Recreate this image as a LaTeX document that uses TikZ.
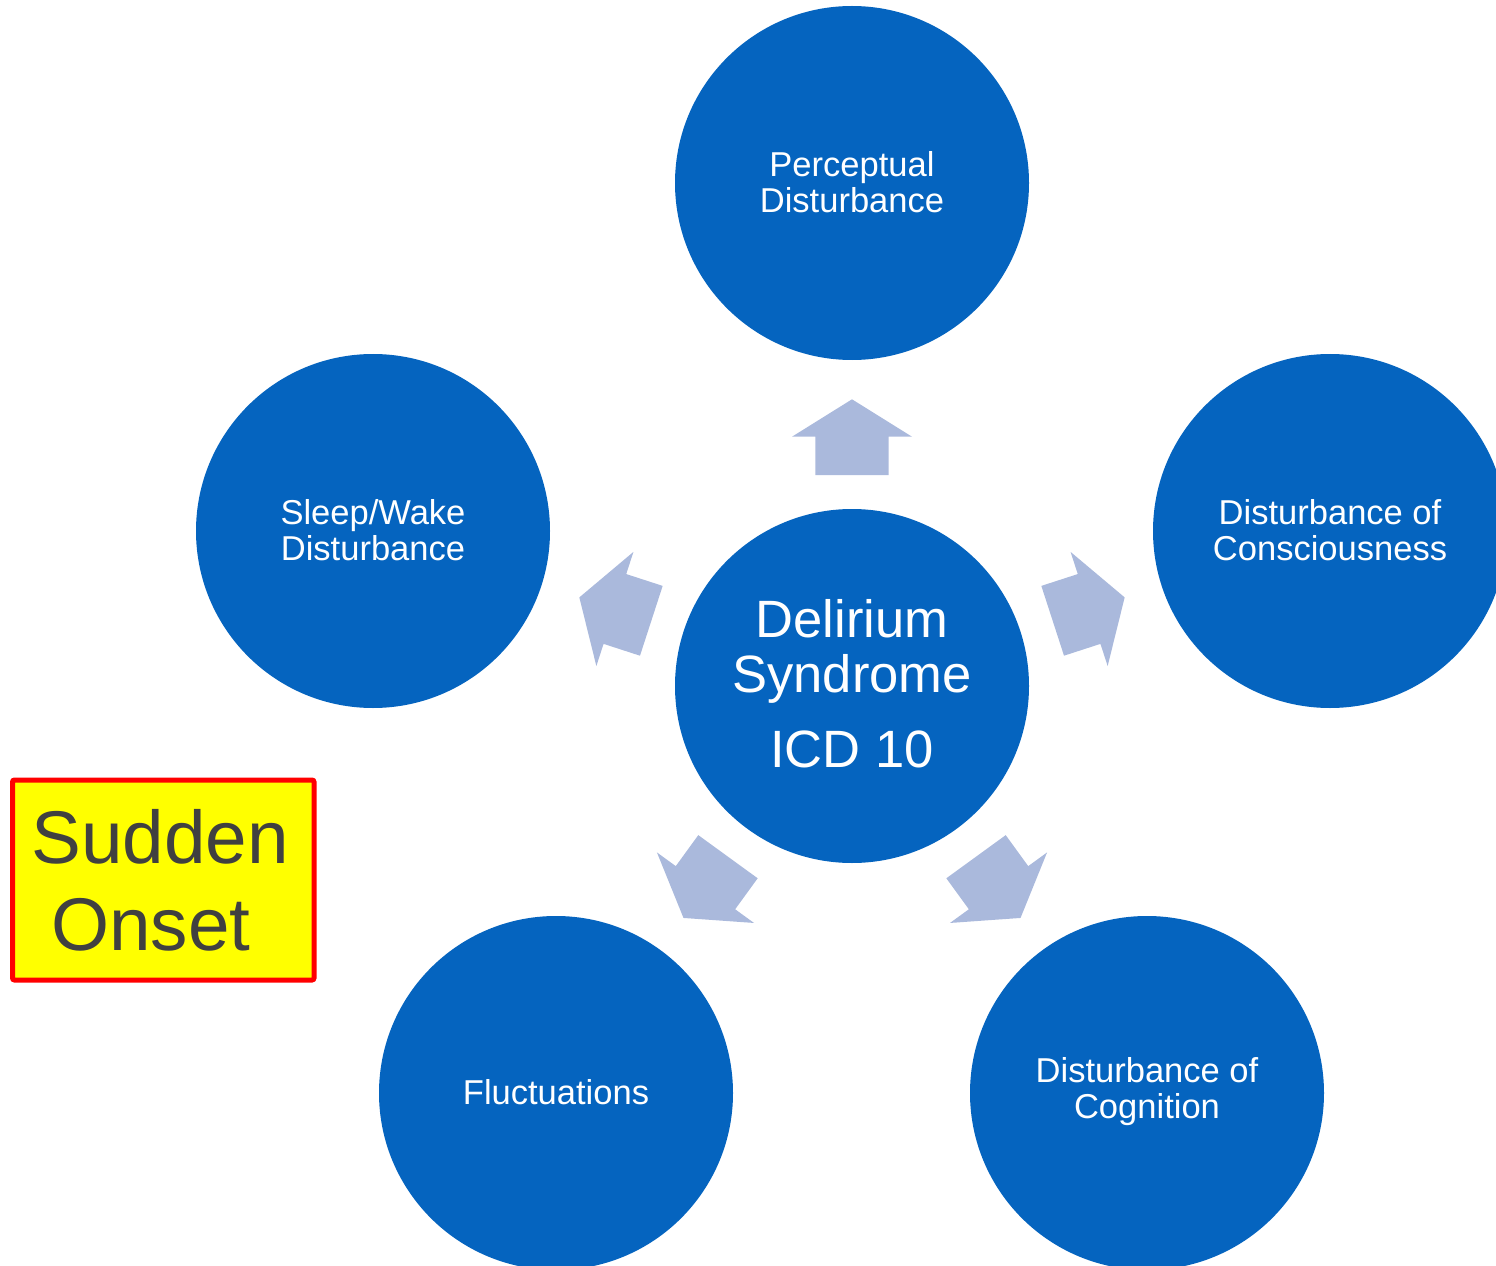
\documentclass[tikz,border=0pt]{standalone}
\usepackage{fontspec}
\setmainfont{Liberation Sans}
\definecolor{bubblue}{HTML}{0564BF}
\definecolor{arrfill}{HTML}{AAB9DC}
\definecolor{darktext}{HTML}{404040}
\definecolor{pureyellow}{RGB}{255,255,0}
\definecolor{purered}{RGB}{255,0,0}
\begin{document}
\begin{tikzpicture}[x=0.75pt,y=0.75pt,
  bub/.style={circle,fill=bubblue,minimum size=265.5pt,inner sep=0pt,text=white,align=center,
    font=\fontsize{25.9pt}{27pt}\selectfont},
  bubtext/.style={text=white,align=center,inner sep=0pt,font=\fontsize{25.9pt}{27pt}\selectfont},
  blockarrow/.style={fill=arrfill},
  onsetbox/.style={draw=purered,line width=3.75pt,fill=pureyellow,rounded corners=1.5pt},
  onsettext/.style={text=darktext,font=\fontsize{56pt}{65pt}\selectfont,inner sep=0pt,anchor=base west}]
\clip (0,0) rectangle (1496,-1266);
\useasboundingbox (0,0) rectangle (1496,-1266);
% central circle
\node[bub] (c) at (852,-686) {};
\node[bubtext,font=\fontsize{39.4pt}{41.3pt}\selectfont] (ctext) at (852,-684) {Delirium\\Syndrome\\[15pt]ICD 10};
% outer circles
\node[bub] (top) at (852,-183) {};
\node[bubtext] (toptext) at (852,-182) {Perceptual\\Disturbance};
\node[bub] (right) at (1330,-531) {};
\node[bubtext] (righttext) at (1330,-530) {Disturbance of\\Consciousness};
\node[bub] (left) at (373,-531) {};
\node[bubtext] (lefttext) at (373,-530) {Sleep/Wake\\Disturbance};
\node[bub] (bl) at (556,-1093) {};
\node[bubtext] (bltext) at (556,-1092) {Fluctuations};
\node[bub] (br) at (1147,-1093) {};
\node[bubtext] (brtext) at (1147,-1092) {Disturbance of\\Cognition};
% block arrows
\foreach \ang in {90,18,162,-54,234}{
  \fill[blockarrow,shift={(c.center)},rotate=\ang]
    (211,-36.7) -- (249.3,-36.7) -- (249.3,-60) -- (286.7,0) -- (249.3,60) -- (249.3,36.7) -- (211,36.7) -- cycle;
}
% Sudden Onset box
\node[onsetbox,minimum width=301.5*0.75pt,minimum height=200*0.75pt,inner sep=0pt] (box) at (163.25,-880) {};
\node[onsettext] (sudden) at (31,-863) {Sudden};
\node[onsettext] (onset) at (51,-950) {Onset};
\end{tikzpicture}
\end{document}
